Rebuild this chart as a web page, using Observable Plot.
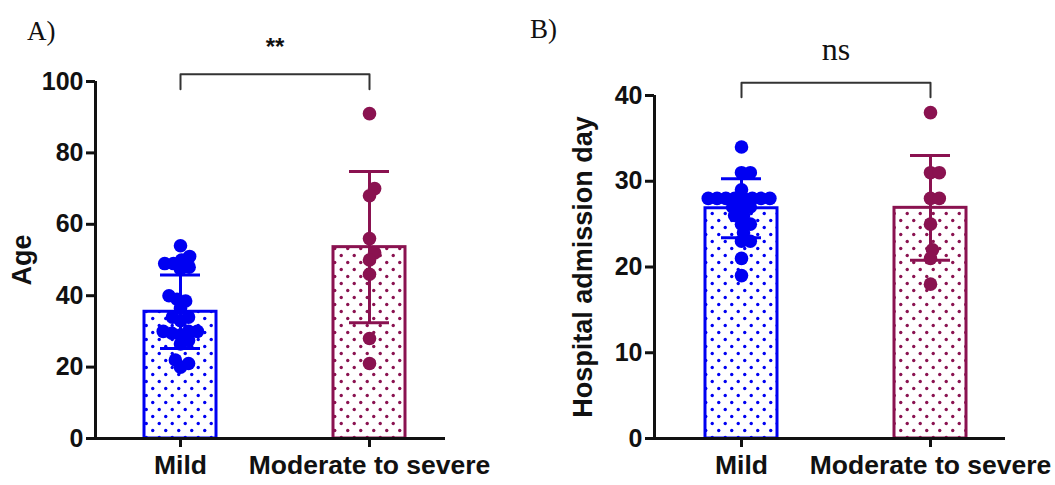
<!DOCTYPE html>
<html><head><meta charset="utf-8">
<script src="https://cdn.jsdelivr.net/npm/d3@7"></script>
<script src="https://cdn.jsdelivr.net/npm/@observablehq/plot@0.6"></script>
<style>
body{margin:0;background:#fff;}
#wrap{position:relative;width:1055px;height:485px;overflow:hidden;background:#fff;}
.panel{position:absolute;top:0;}
.panel svg{overflow:visible;}
.lab{position:absolute;font-family:"Liberation Serif","Times New Roman",serif;font-size:27px;color:#111;line-height:1;}
</style></head><body>
<div id="wrap">
<div class="lab" style="left:27px;top:18px">A)</div>
<div class="lab" style="left:530px;top:16px">B)</div>
</div>
<script>
// ---- data ----
const groups = ["Mild", "Moderate to severe"];
const groupColors = ["#0000f2", "#8a1250"];

const ageMild = [54, 51, 50, 49, 49, 48, 47.5, 40, 39, 38.5, 36.5, 34, 34, 33, 30, 29.5, 30, 30, 27.5, 26.5, 29, 22, 21, 20];
const ageSevere = [91, 70, 68, 56, 52, 50, 46, 28, 21];
const ageMean = [35.5, 53.6];
const ageSD = [10.3, 21.2];
const ageTicks = [0, 20, 40, 60, 80, 100];

const dayMild = [34, 31, 31, 29, 28, 28, 28, 28, 28, 28, 28, 28, 27, 27, 27, 26, 26, 25, 25, 24, 23, 23, 21, 19];
const daySevere = [38, 31, 31, 28, 28, 25, 22, 21, 18];
const dayMean = [26.85, 26.9];
const daySD = [3.45, 6.1];
const dayTicks = [0, 10, 20, 30, 40];

// ---- helpers ----
function swarm(values, yPx, rad) {
  const order = values.map((v, i) => i).sort((a, b) => values[a] - values[b]);
  const placed = [];
  const off = new Array(values.length).fill(0);
  const d2 = 4 * rad * rad;
  for (const i of order) {
    const y = yPx(values[i]);
    const cands = [0];
    for (const p of placed) {
      const dy = p.y - y;
      if (Math.abs(dy) < 2 * rad) {
        const dx = Math.sqrt(d2 - dy * dy);
        cands.push(p.x + dx, p.x - dx);
      }
    }
    cands.sort((a, b) => Math.abs(a) - Math.abs(b));
    let chosen = 0;
    for (const c of cands) {
      if (placed.every(p => (p.x - c) ** 2 + (p.y - y) ** 2 >= d2 - 1e-6)) { chosen = c; break; }
    }
    placed.push({x: chosen, y});
    off[i] = chosen;
  }
  return off;
}

function makePanel(cfg) {
  const {id, left, width, height, mL, mR, mT, mB, c0, c1, axisEnd, yDomain, yTicks,
         series, means, sds, yLabel, labelDx, sig, sigFont, sigSize, sigWeight, sigY, bracketTop, bracketBottom} = cfg;
  const s = c1 - c0; // px per category unit
  const xDomain = [-(c0 - (left + mL)) / s, 1 + (axisEnd - c1) / s];
  const yPx = d3.scaleLinear(yDomain, [height - mB, mT]);
  const halfBar = 36 / s, halfCap = 20 / s;

  const pts = [];
  series.forEach((vals, gi) => {
    const off = swarm(vals, yPx, 4.4);
    vals.forEach((v, k) => pts.push({g: gi, v, x: gi + off[k] / s}));
  });
  const summary = groups.map((g, i) => ({i, mean: means[i], lo: means[i] - sds[i], hi: means[i] + sds[i]}));

  const defsMark = () => {
    const defs = d3.create("svg:defs");
    groupColors.forEach((c, i) => {
      const p = defs.append("pattern").attr("id", `${id}-pat${i}`)
        .attr("patternUnits", "userSpaceOnUse").attr("width", 13).attr("height", 14);
      p.append("rect").attr("width", 13).attr("height", 14).attr("fill", "#fff");
      p.append("circle").attr("cx", 3.25).attr("cy", 3.5).attr("r", 1.7).attr("fill", c);
      p.append("circle").attr("cx", 9.75).attr("cy", 10.5).attr("r", 1.7).attr("fill", c);
    });
    return defs.node();
  };

  const marks = [defsMark];
  groups.forEach((g, i) => {
    const sm = summary.filter(d => d.i === i);
    marks.push(
      Plot.rectY(sm, {x1: d => d.i - halfBar, x2: d => d.i + halfBar, y1: 0, y2: "mean",
        fill: `url(#${id}-pat${i})`, stroke: groupColors[i], strokeWidth: 3}),
      Plot.ruleX(sm, {x: "i", y1: "lo", y2: "hi", stroke: groupColors[i], strokeWidth: 3}),
      Plot.ruleY(sm, {y: "hi", x1: d => d.i - halfCap, x2: d => d.i + halfCap, stroke: groupColors[i], strokeWidth: 3}),
      Plot.ruleY(sm, {y: "lo", x1: d => d.i - halfCap, x2: d => d.i + halfCap, stroke: groupColors[i], strokeWidth: 3}),
      Plot.dot(pts.filter(d => d.g === i), {x: "x", y: "v", r: 6.8, fill: groupColors[i], stroke: "none"})
    );
  });
  // significance bracket
  const br = [{x: 0, y: bracketBottom}, {x: 0, y: bracketTop}, {x: 1, y: bracketTop}, {x: 1, y: bracketBottom}];
  marks.push(
    Plot.line(br, {x: "x", y: "y", stroke: "#333", strokeWidth: 2}),
    Plot.text([sig], {x: 0.5, y: sigY, text: d => d, fontFamily: sigFont, fontSize: sigSize, fontWeight: sigWeight, fill: "#111", lineAnchor: "middle"})
  );
  // axes
  marks.push(
    Plot.ruleX([xDomain[0]], {stroke: "#111", strokeWidth: 3}),
    Plot.ruleY([yDomain[0]], {stroke: "#111", strokeWidth: 3}),
    Plot.axisY({ticks: yTicks, tickSize: 9, tickPadding: 3, fontSize: 25, fontWeight: "bold", strokeWidth: 3, label: null, fill: "#111", stroke: "#111"}),
    Plot.axisX({ticks: [0, 1], tickFormat: i => groups[i], tickSize: 9, tickPadding: 8, fontSize: 26.5, fontWeight: "bold", strokeWidth: 3, label: null, fill: "#111", stroke: "#111"}),
    Plot.text([yLabel], {frameAnchor: "left", textAnchor: "middle", lineAnchor: "middle", rotate: -90, dx: labelDx, text: d => d, fontSize: 27, fontWeight: "bold", fill: "#111"})
  );

  const chart = Plot.plot({
    width, height,
    marginLeft: mL, marginRight: mR, marginTop: mT, marginBottom: mB,
    style: {fontFamily: "'Liberation Sans', Arial, sans-serif", background: "transparent", color: "#111"},
    x: {type: "linear", domain: xDomain},
    y: {domain: yDomain},
    marks
  });
  const div = document.createElement("div");
  div.className = "panel";
  div.style.left = left + "px";
  div.appendChild(chart);
  document.getElementById("wrap").appendChild(div);
}

makePanel({id: "A", left: 0, width: 527, height: 485, mL: 95, mR: 82, mT: 81, mB: 47,
  c0: 180, c1: 369, axisEnd: 445, yDomain: [0, 100], yTicks: ageTicks,
  series: [ageMild, ageSevere], means: ageMean, sds: ageSD, yLabel: "Age", labelDx: -73,
  sig: "**", sigFont: "'Liberation Sans', Arial, sans-serif", sigSize: 24, sigWeight: "bold", sigY: 109.5,
  bracketTop: 102, bracketBottom: 97.8});

makePanel({id: "B", left: 527, width: 528, height: 485, mL: 127, mR: 50, mT: 95, mB: 47,
  c0: 741, c1: 930, axisEnd: 1005, yDomain: [0, 40], yTicks: dayTicks,
  series: [dayMild, daySevere], means: dayMean, sds: daySD, yLabel: "Hospital admission day", labelDx: -71,
  sig: "ns", sigFont: "'Liberation Serif', 'Times New Roman', serif", sigSize: 32, sigWeight: "normal", sigY: 45.3,
  bracketTop: 41.5, bracketBottom: 39.8});
</script>
</body></html>
